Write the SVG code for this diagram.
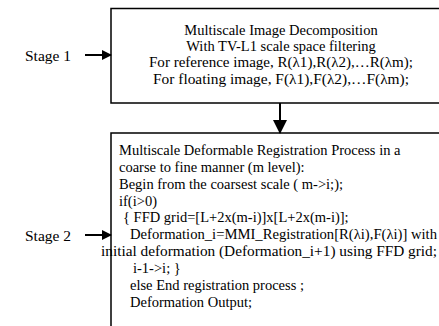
<svg xmlns="http://www.w3.org/2000/svg" width="439" height="326" viewBox="0 0 439 326">
<defs>
<style>
.t{font-family:'Liberation Serif','Times New Roman','DejaVu Serif',serif;font-size:14.5px;fill:#000}
.lbl{font-family:'Liberation Serif','Times New Roman','DejaVu Serif',serif;font-size:15.5px;fill:#000}
.box{fill:#fff;stroke:#000;stroke-width:1.5}
.con{stroke:#000;stroke-width:2;fill:none}
</style>
<marker id="ah" markerWidth="10" markerHeight="10" refX="9" refY="5" orient="auto" markerUnits="userSpaceOnUse">
<path d="M0,0 L10,5 L0,10 Z" fill="#000"/>
</marker>
<marker id="ahv" markerWidth="14" markerHeight="14" refX="13" refY="7" orient="auto" markerUnits="userSpaceOnUse">
<path d="M0,0 L14,7 L0,14 Z" fill="#000"/>
</marker>
</defs>
<g id="stage1-label"><text class="lbl" x="25" y="61">Stage 1</text></g>
<g id="stage2-label"><text class="lbl" x="25" y="241">Stage 2</text></g>
<g id="box1">
<rect class="box" x="111" y="8.5" width="340" height="94.5"/>
<text class="t" x="281" y="35" text-anchor="middle">Multiscale Image Decomposition</text>
<text class="t" x="281" y="51" text-anchor="middle">With TV-L1 scale space filtering</text>
<text class="t" x="281" y="67" text-anchor="middle" textLength="264" lengthAdjust="spacingAndGlyphs">For reference image, R(λ1),R(λ2),…R(λm);</text>
<text class="t" x="281" y="84" text-anchor="middle" textLength="256" lengthAdjust="spacingAndGlyphs">For floating image, F(λ1),F(λ2),…F(λm);</text>
</g>
<g id="box2">
<rect class="box" x="111" y="133" width="340" height="200"/>
<text class="t" x="119" y="155">Multiscale Deformable Registration Process in a</text>
<text class="t" x="119" y="172">coarse to fine manner (m level):</text>
<text class="t" x="119" y="189">Begin from the coarsest scale ( m-&gt;i;);</text>
<text class="t" x="119" y="206">if(i&gt;0)</text>
<text class="t" x="123" y="222">{ FFD grid=[L+2x(m-i)]x[L+2x(m-i)];</text>
<text class="t" x="130" y="239" textLength="307" lengthAdjust="spacingAndGlyphs">Deformation_i=MMI_Registration[R(λi),F(λi)]  with</text>
<text class="t" x="101" y="256" textLength="336" lengthAdjust="spacingAndGlyphs">initial deformation (Deformation_i+1) using FFD grid;</text>
<text class="t" x="133" y="273">i-1-&gt;i; }</text>
<text class="t" x="130" y="290">else  End registration process ;</text>
<text class="t" x="130" y="307">Deformation Output;</text>
</g>
<g id="connectors">
<line class="con" x1="85" y1="55" x2="111" y2="55" marker-end="url(#ah)"/>
<line class="con" x1="85" y1="235" x2="111" y2="235" marker-end="url(#ah)"/>
<line class="con" x1="280" y1="103" x2="280" y2="133" marker-end="url(#ahv)"/>
</g>
</svg>
